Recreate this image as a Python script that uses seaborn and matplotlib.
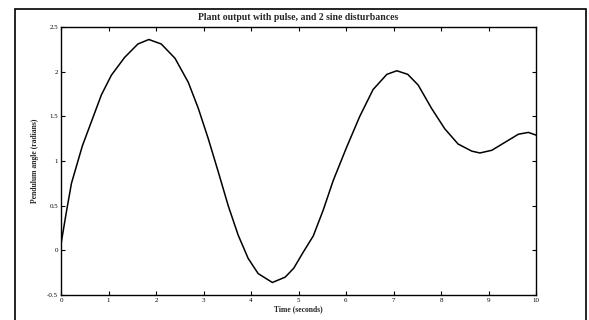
import matplotlib
matplotlib.use("Agg")
import matplotlib.pyplot as plt
import seaborn as sns
import pandas as pd
from matplotlib.patches import Rectangle

# Values
time_s = [0.0, 0.11, 0.22, 0.45, 0.64, 0.85, 1.06, 1.34, 1.62, 1.85, 2.11, 2.40,
          2.68, 2.89, 3.10, 3.31, 3.52, 3.73, 3.94, 4.15, 4.45, 4.72, 4.90, 5.10,
          5.31, 5.52, 5.73, 6.01, 6.29, 6.57, 6.86, 7.07, 7.30, 7.52, 7.80, 8.08,
          8.36, 8.65, 8.82, 9.07, 9.35, 9.63, 9.84, 10.0]
angle_rad = [0.07, 0.42, 0.75, 1.17, 1.44, 1.74, 1.96, 2.16, 2.31, 2.36, 2.31, 2.15,
             1.88, 1.59, 1.25, 0.88, 0.50, 0.17, -0.09, -0.26, -0.36, -0.30, -0.20, -0.02,
             0.16, 0.45, 0.78, 1.15, 1.50, 1.80, 1.97, 2.01, 1.97, 1.85, 1.59, 1.36,
             1.19, 1.11, 1.09, 1.12, 1.21, 1.30, 1.32, 1.29]
x_ticks = [0, 1, 2, 3, 4, 5, 6, 7, 8, 9, 10]
y_ticks = [-0.5, 0, 0.5, 1, 1.5, 2, 2.5]
y_tick_labels = ["-0.5", "0", "0.5", "1", "1.5", "2", "2.5"]

df = pd.DataFrame({"t": time_s, "y": angle_rad})

sns.set_style("white")
plt.rcParams["font.family"] = ["Liberation Serif", "DejaVu Serif"]

fig = plt.figure(figsize=(5.89, 3.2), dpi=100)
ax = fig.add_axes([61 / 589, 1 - 295 / 320, (536 - 61) / 589, (295 - 27) / 320])

sns.lineplot(data=df, x="t", y="y", ax=ax, color="black", linewidth=1.1)

ax.set_xlim(0, 10)
ax.set_ylim(-0.5, 2.5)
ax.set_xticks(x_ticks)
ax.set_xticklabels([str(v) for v in x_ticks], fontsize=5)
ax.set_yticks(y_ticks)
ax.set_yticklabels(y_tick_labels, fontsize=5)
ax.tick_params(direction="in", length=3, width=0.8, top=True, right=True,
               bottom=True, left=True, pad=2, colors="black")
for s in ax.spines.values():
    s.set_color("black")
    s.set_linewidth(1.0)

ax.set_xlabel("Time (seconds)", fontsize=5.5, fontweight="bold", labelpad=2)
ax.set_ylabel("Pendulum angle (radians)", fontsize=5.5, fontweight="bold", labelpad=6)
ax.set_title("Plant output with pulse, and 2 sine disturbances", fontsize=7,
             fontweight="bold", pad=5)

# outer frame of the scanned figure
fig.patches.append(Rectangle((15 / 589, -0.02), (586 - 15) / 589, 1 - 9 / 320 + 0.02,
                             transform=fig.transFigure, fill=False,
                             edgecolor="black", linewidth=1.2))

fig.savefig("out.png", dpi=100)
